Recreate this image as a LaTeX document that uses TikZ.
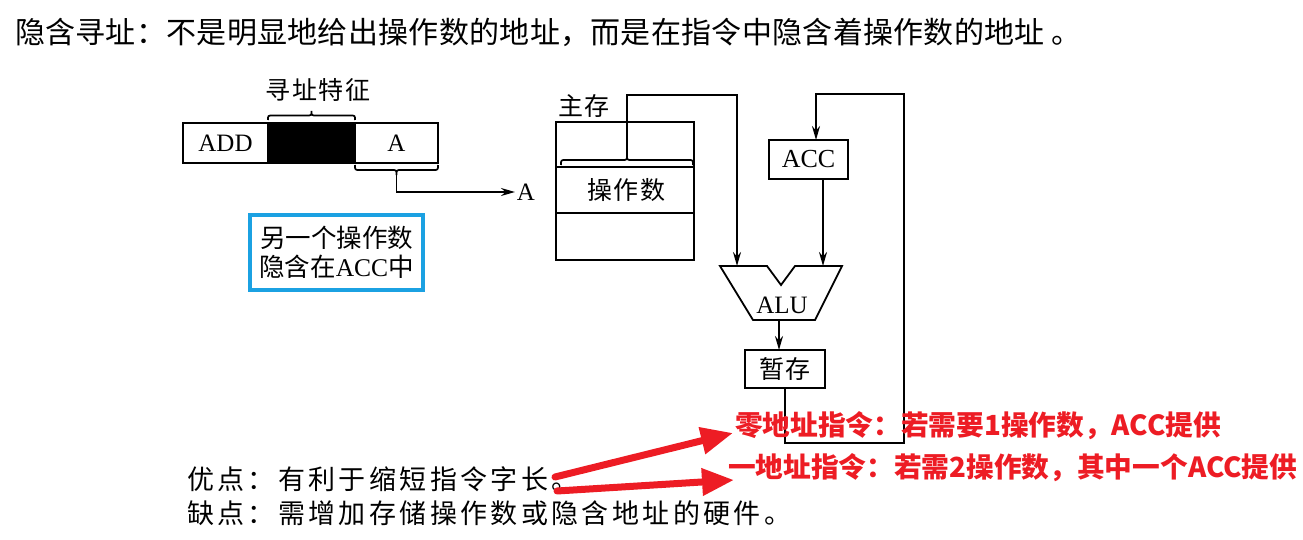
\documentclass[tikz,border=0pt]{standalone}
\usepackage{fontspec}
\usetikzlibrary{arrows.meta}
\setmainfont{Liberation Serif}
\newfontfamily\cjk{Noto Sans CJK SC}
\newfontfamily\cjkT{Noto Sans CJK SC}[LetterSpace=1]
\newfontfamily\cjkB{Noto Sans CJK SC}[LetterSpace=12.5]
\newfontfamily\cjkL{Noto Sans CJK SC}[LetterSpace=6]
\definecolor{redc}{RGB}{237,28,36}
\definecolor{bluec}{RGB}{27,161,226}
\newcommand{\mybrace}[4]{% x1, x2, base y, tip y
  \draw[line width=1.7pt] (#1,#3) .. controls (#1,{(#3+#4)/2}) .. ({#1+5},{(#3+#4)/2})
    -- ({(#1+#2)/2-5},{(#3+#4)/2}) .. controls ({(#1+#2)/2},{(#3+#4)/2}) .. ({(#1+#2)/2},#4)
    .. controls ({(#1+#2)/2},{(#3+#4)/2}) .. ({(#1+#2)/2+5},{(#3+#4)/2})
    -- ({#2-5},{(#3+#4)/2}) .. controls (#2,{(#3+#4)/2}) .. (#2,#3);}
\begin{document}
\begin{tikzpicture}[x=1pt,y=-1pt,line width=1.8pt,
  cell/.style={draw, inner sep=0pt, outer sep=0pt, minimum height=40pt, font=\fontsize{25}{28}\selectfont},
  plain/.style={inner sep=0pt, outer sep=0pt},
  arr/.style={-{Stealth[length=14pt,width=8pt]}},
  redarr/.style={draw=redc, line width=7pt, line cap=round, -{Triangle[length=32pt,width=26pt]}},
  redtxt/.style={plain, anchor=west, text=redc, font=\cjk\bfseries\fontsize{27.7}{30}\selectfont},
  song/.style={plain, font=\cjkL\fontsize{25}{28}\selectfont}
]
\useasboundingbox (0,0) rectangle (1303,540);

% title
\node[plain, anchor=west] (title) at (15,32) {\cjkT\fontsize{30}{34}\selectfont 隐含寻址：不是明显地给出操作数的地址，而是在指令中隐含着操作数的地址 。};

% instruction format
\node[cell, minimum width=85pt] (add) at (225.5,143) {ADD};
\node[cell, minimum width=87pt, fill=black] (blk) at (311.5,143) {};
\node[cell, minimum width=83pt] (acell) at (396.5,143) {A};
\mybrace{268}{355}{120}{111}
\node[song] (feat) at (318,90) {寻址特征};
\mybrace{355}{438}{165}{175}
\coordinate (abrace) at (396.5,175);
\node[plain, inner sep=2pt, font=\fontsize{25}{28}\selectfont] (lblA) at (526,192) {A};
\draw[arr] (abrace) |- (lblA.west);

% blue note
\node[draw=bluec, line width=4pt, minimum width=173pt, minimum height=75pt, inner sep=0pt, align=center,
      font=\fontsize{25.5}{29}\selectfont] (note) at (336.5,252.5)
  {{\cjk 另一个操作数}\\{\cjk 隐含在}ACC{\cjk 中}};

% main memory
\node[song, anchor=center] (mainlbl) at (584,106) {主存};
\node[draw, minimum width=138pt, minimum height=138pt, inner sep=0pt, outer sep=0pt] (mem) at (625,191) {};
\draw ([yshift=-45pt]mem.north west) -- ([yshift=-45pt]mem.north east);
\draw ([yshift=-91pt]mem.north west) -- ([yshift=-91pt]mem.north east);
\node[song] (opnd) at (626,190) {操作数};
\mybrace{561}{693}{165}{155}
\coordinate (memtip) at (627,155);

% ACC
\node[cell, minimum width=79pt, minimum height=39pt, font=\fontsize{26}{30}\selectfont] (acc) at (808.5,159.5) {ACC};

% ALU
\coordinate (aluA) at (720,266);
\coordinate (aluB) at (767,266);
\coordinate (aluC) at (781,285);
\coordinate (aluD) at (795,266);
\coordinate (aluE) at (842,266);
\coordinate (aluF) at (815,320);
\coordinate (aluG) at (753,320);
\draw[line join=miter] (aluA) -- (aluB) -- (aluC) -- (aluD) -- (aluE) -- (aluF) -- (aluG) -- cycle;
\node[plain, font=\fontsize{25}{28}\selectfont] (alu) at (782,305) {ALU};
\coordinate (aluinL) at (737,266);
\coordinate (aluinR) at (823,266);
\coordinate (aluout) at (779,320);

% temp register
\node[cell, minimum width=80pt, minimum height=38pt, font=\cjkL\fontsize{25}{28}\selectfont] (tmp) at (785,369) {暂存};

% connectors
\draw[arr] (memtip) -- ++(0,-60) -| (aluinL);
\draw[arr] ([xshift=14.5pt]acc.south) -- (aluinR);
\draw[arr] (aluout) -- (aluout |- tmp.north);
\coordinate (fbR) at (904,443);
\coordinate (fbT) at (904,94);
\draw[arr] (tmp.south) |- (fbR) -- (fbT) -| ([xshift=7.5pt]acc.north);

% bottom text
\node[plain, anchor=west, font=\cjkB\fontsize{27}{30}\selectfont] (pro) at (187,479) {优点：有利于缩短指令字长。};
\node[plain, anchor=west, font=\cjkB\fontsize{27}{30}\selectfont] (con) at (187,513) {缺点：需增加存储操作数或隐含地址的硬件。};

% red notes
\node[redtxt] (zero) at (735,426) {零地址指令：若需要1操作数，ACC提供};
\node[redtxt] (one) at (728,468) {一地址指令：若需2操作数，其中一个ACC提供};
\coordinate (s1) at (555,477);
\coordinate (e1) at (733,433);
\coordinate (s2) at (557,491);
\coordinate (e2) at (734,480);
\draw[redarr] (s1) -- (e1);
\draw[redarr] (s2) -- (e2);
\end{tikzpicture}
\end{document}
